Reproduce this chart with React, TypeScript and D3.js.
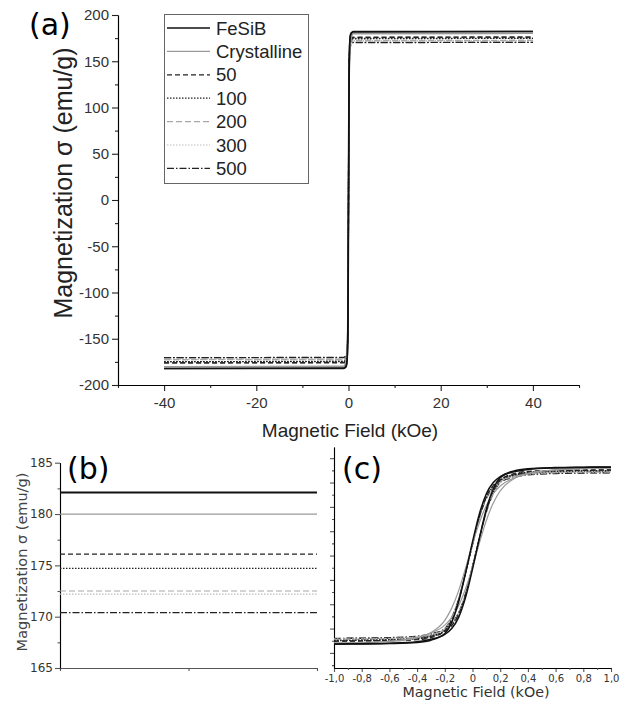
import * as d3 from "d3";
import { useEffect, useRef } from "react";

// sample names, same order everywhere
const SERIES = ["FeSiB", "Crystalline", "50", "100", "200", "300", "500"];

// saturation magnetization at high field (emu/g)
const MS_HIGH = [182.1, 180.0, 176.1, 174.7, 172.5, 172.2, 170.4];

// high field end points of the full loop in panel (a), kOe
const FIELD_MAX = 40;

// low field part of the loop (kOe), rising branch
const FIELD_LOW = [-1, -0.8, -0.6, -0.4, -0.3, -0.2, -0.15, -0.1, -0.05, 0, 0.05, 0.1, 0.15, 0.2, 0.3, 0.4, 0.6, 0.8, 1];
const M_FESIB = [-181.5, -181, -180, -177, -172, -162, -150, -127, -86, -28, 36, 95, 137, 160, 174, 178.5, 180.8, 181.6, 182.1];
const M_CRYST = [-179.5, -178.5, -176, -168, -159, -143, -127, -103, -68, -24, 26, 72, 108, 133, 158, 169, 176, 178.8, 180];
const M_50 = [-175.5, -175, -174, -171, -166, -156, -144, -121, -81, -24, 35, 92, 132, 155, 168.5, 173, 175, 175.8, 176.1];
const M_100 = [-174.2, -173.8, -172.8, -169.8, -165, -155, -143, -120, -80, -22, 36, 92, 131, 154, 167, 171.6, 173.8, 174.4, 174.7];
const M_200 = [-172, -171.5, -170.5, -167.5, -162.5, -153, -141, -119, -80, -24, 34, 90, 129, 152, 165, 169.5, 171.6, 172.2, 172.5];
const M_300 = [-171.8, -171.2, -170.2, -167, -162, -152, -140, -118, -79, -23, 35, 90, 128, 151, 164.5, 169, 171.3, 171.9, 172.2];
const M_500 = [-170, -169.5, -168.5, -165.5, -160.5, -151, -139, -117, -78, -22, 35, 89, 127, 150, 163, 167.5, 169.7, 170.2, 170.4];
const RISING = [M_FESIB, M_CRYST, M_50, M_100, M_200, M_300, M_500];

// panel (b) is an unlabeled stretch of the saturated part
const B_FIELD = [0, 2];

// tick values
const A_X_TICKS = [-40, -20, 0, 20, 40];
const A_X_MINOR = [-50, -30, -10, 10, 30, 50];
const A_Y_TICKS = [-200, -150, -100, -50, 0, 50, 100, 150, 200];
const A_Y_MINOR = [-175, -125, -75, -25, 25, 75, 125, 175];
const B_Y_TICKS = [165, 170, 175, 180, 185];
const B_Y_MINOR = [167.5, 172.5, 177.5, 182.5];
const B_X_TICKS = [0, 1, 2];
const C_X_TICKS = [-1, -0.8, -0.6, -0.4, -0.2, 0, 0.2, 0.4, 0.6, 0.8, 1];
const C_X_MINOR = [-0.9, -0.7, -0.5, -0.3, -0.1, 0.1, 0.3, 0.5, 0.7, 0.9];
const C_Y_TICKS = [-200, -150, -100, -50, 0, 50, 100, 150, 200];
const C_Y_MINOR = [-225, -175, -125, -75, -25, 25, 75, 125, 175];

const LINE_STYLES = [
  { color: "#111", width: 1.5, dash: null },
  { color: "#9a9a9a", width: 1.2, dash: null },
  { color: "#222", width: 1.2, dash: "5,3" },
  { color: "#222", width: 1.2, dash: "1.5,1.5" },
  { color: "#a8a8a8", width: 1.2, dash: "6,3" },
  { color: "#bdbdbd", width: 1.2, dash: "1.5,1.5" },
  { color: "#222", width: 1.2, dash: "7,2,1.5,2" },
];

const ARIAL = "'Liberation Sans', Arial, sans-serif";
const DEJAVU = "'DejaVu Sans', sans-serif";

const App = () => {
  const svgRef = useRef(null);

  useEffect(() => {
    const svg = d3.select(svgRef.current);
    svg.selectAll("*").remove();

    const styleAxis = (g, font, size, lineColor, textColor) => {
      g.attr("font-family", font).attr("font-size", size);
      g.select(".domain").attr("stroke", lineColor).attr("stroke-width", 1.2);
      g.selectAll(".tick line").attr("stroke", lineColor).attr("stroke-width", 1.1);
      g.selectAll(".tick text").attr("fill", textColor);
    };

    const rising = (i) => FIELD_LOW.map((h, k) => [h, RISING[i][k]]);
    const falling = (pts) => pts.map(([h, m]) => [-h, -m]).reverse();

    const drawLoops = (g, x, y, pointsFor) => {
      const line = d3
        .line()
        .x((d) => x(d[0]))
        .y((d) => y(d[1]))
        .curve(d3.curveMonotoneX);
      for (let i = SERIES.length - 1; i >= 0; i--) {
        const st = LINE_STYLES[i];
        const up = pointsFor(i);
        [up, falling(up)].forEach((pts) => {
          g.append("path")
            .attr("d", line(pts))
            .attr("fill", "none")
            .attr("stroke", st.color)
            .attr("stroke-width", st.width)
            .attr("stroke-dasharray", st.dash);
        });
      }
    };

    // ---------------- panel (a)
    const xA = d3.scaleLinear().domain([-50, 50]).range([118, 579]);
    const yA = d3.scaleLinear().domain([-200, 200]).range([385, 15]);

    const gA = svg.append("g");
    const axA = gA.append("g").attr("transform", `translate(0,${yA(-200)})`);
    axA.call(d3.axisBottom(xA).tickValues(A_X_TICKS).tickFormat((d) => String(d)).tickSize(6).tickPadding(6).tickSizeOuter(0));
    axA.append("g").call(d3.axisBottom(xA).tickValues(A_X_MINOR).tickFormat(() => "").tickSize(3).tickSizeOuter(0));
    styleAxis(axA, ARIAL, 15, "#222", "#333");

    const ayA = gA.append("g").attr("transform", `translate(${xA(-50)},0)`);
    ayA.call(d3.axisLeft(yA).tickValues(A_Y_TICKS).tickFormat((d) => String(d)).tickSize(6).tickPadding(3).tickSizeOuter(0));
    ayA.append("g").call(d3.axisLeft(yA).tickValues(A_Y_MINOR).tickFormat(() => "").tickSize(3).tickSizeOuter(0));
    styleAxis(ayA, ARIAL, 15, "#222", "#333");

    drawLoops(gA, xA, yA, (i) => [[-FIELD_MAX, -MS_HIGH[i]], ...rising(i), [FIELD_MAX, MS_HIGH[i]]]);

    gA.append("text")
      .attr("x", 350)
      .attr("y", 437)
      .attr("text-anchor", "middle")
      .attr("font-family", ARIAL)
      .attr("font-size", 19)
      .attr("fill", "#222")
      .text("Magnetic Field (kOe)");

    gA.append("text")
      .attr("transform", "translate(72,183) rotate(-90)")
      .attr("text-anchor", "middle")
      .attr("font-family", ARIAL)
      .attr("font-size", 25)
      .attr("fill", "#222")
      .text("Magnetization σ (emu/g)");

    gA.append("text")
      .attr("x", 29)
      .attr("y", 35)
      .attr("font-family", DEJAVU)
      .attr("font-size", 30)
      .attr("fill", "#000")
      .text("(a)");

    // legend
    const leg = gA.append("g");
    leg.append("rect")
      .attr("x", 164.5)
      .attr("y", 14.5)
      .attr("width", 144)
      .attr("height", 169)
      .attr("fill", "#fff")
      .attr("stroke", "#666")
      .attr("stroke-width", 1);
    SERIES.forEach((name, i) => {
      const st = LINE_STYLES[i];
      const yy = 28 + i * 23.4;
      leg.append("line")
        .attr("x1", 167)
        .attr("x2", 210)
        .attr("y1", yy)
        .attr("y2", yy)
        .attr("stroke", st.color)
        .attr("stroke-width", st.width)
        .attr("stroke-dasharray", st.dash);
      leg.append("text")
        .attr("x", 216)
        .attr("y", yy)
        .attr("dy", "0.36em")
        .attr("font-family", ARIAL)
        .attr("font-size", 18.5)
        .attr("fill", "#222")
        .text(name);
    });

    // ---------------- panel (b)
    const xB = d3.scaleLinear().domain([0, 2]).range([60, 317]);
    const yB = d3.scaleLinear().domain([165, 185]).range([668, 462.7]);
    const gB = svg.append("g");

    const axB = gB.append("g").attr("transform", `translate(0,${yB(165)})`);
    axB.call(d3.axisBottom(xB).tickValues(B_X_TICKS).tickFormat(() => "").tickSize(3).tickSizeOuter(0));
    styleAxis(axB, DEJAVU, 11.5, "#555", "#333");

    const ayB = gB.append("g").attr("transform", `translate(${xB(0)},0)`);
    ayB.call(d3.axisLeft(yB).tickValues(B_Y_TICKS).tickFormat((d) => String(d)).tickSize(5).tickPadding(2).tickSizeOuter(0));
    ayB.append("g").call(d3.axisLeft(yB).tickValues(B_Y_MINOR).tickFormat(() => "").tickSize(2.5).tickSizeOuter(0));
    styleAxis(ayB, DEJAVU, 12, "#555", "#333");

    const lineB = d3.line().x((d) => xB(d[0])).y((d) => yB(d[1]));
    for (let i = SERIES.length - 1; i >= 0; i--) {
      const st = LINE_STYLES[i];
      gB.append("path")
        .attr("d", lineB(B_FIELD.map((h) => [h, MS_HIGH[i]])))
        .attr("fill", "none")
        .attr("stroke", st.color)
        .attr("stroke-width", i === 0 ? 2 : st.width)
        .attr("stroke-dasharray", st.dash);
    }

    gB.append("text")
      .attr("transform", "translate(27,562) rotate(-90)")
      .attr("text-anchor", "middle")
      .attr("font-family", DEJAVU)
      .attr("font-size", 14.5)
      .attr("fill", "#444")
      .text("Magnetization σ (emu/g)");

    gB.append("text")
      .attr("x", 67)
      .attr("y", 479)
      .attr("font-family", DEJAVU)
      .attr("font-size", 30)
      .attr("fill", "#000")
      .text("(b)");

    // ---------------- panel (c)
    const xC = d3.scaleLinear().domain([-1, 1]).range([334, 611]);
    const yC = d3.scaleLinear().domain([-231, 223]).range([668, 447]);
    const gC = svg.append("g");

    const axC = gC.append("g").attr("transform", `translate(0,${yC(-231)})`);
    axC.call(
      d3.axisBottom(xC)
        .tickValues(C_X_TICKS)
        .tickFormat((d) => (d === 0 ? "0" : d.toFixed(1).replace(".", ",")))
        .tickSize(4)
        .tickPadding(3)
        .tickSizeOuter(0)
    );
    axC.append("g").call(d3.axisBottom(xC).tickValues(C_X_MINOR).tickFormat(() => "").tickSize(2).tickSizeOuter(0));
    styleAxis(axC, DEJAVU, 10, "#555", "#333");

    const ayC = gC.append("g").attr("transform", `translate(${xC(-1)},0)`);
    ayC.call(d3.axisLeft(yC).tickValues(C_Y_TICKS).tickFormat(() => "").tickSize(4).tickSizeOuter(0));
    ayC.append("g").call(d3.axisLeft(yC).tickValues(C_Y_MINOR).tickFormat(() => "").tickSize(2).tickSizeOuter(0));
    styleAxis(ayC, DEJAVU, 10, "#555", "#333");

    drawLoops(gC, xC, yC, rising);

    gC.append("text")
      .attr("x", 476)
      .attr("y", 697)
      .attr("text-anchor", "middle")
      .attr("font-family", DEJAVU)
      .attr("font-size", 14.3)
      .attr("fill", "#333")
      .text("Magnetic Field (kOe)");

    gC.append("text")
      .attr("x", 342)
      .attr("y", 479)
      .attr("font-family", DEJAVU)
      .attr("font-size", 30)
      .attr("fill", "#000")
      .text("(c)");
  }, []);

  return (
    <svg
      ref={svgRef}
      width={631}
      height={702}
      style={{ position: "absolute", left: 0, top: 0, background: "#fff" }}
    />
  );
};

export default App;
